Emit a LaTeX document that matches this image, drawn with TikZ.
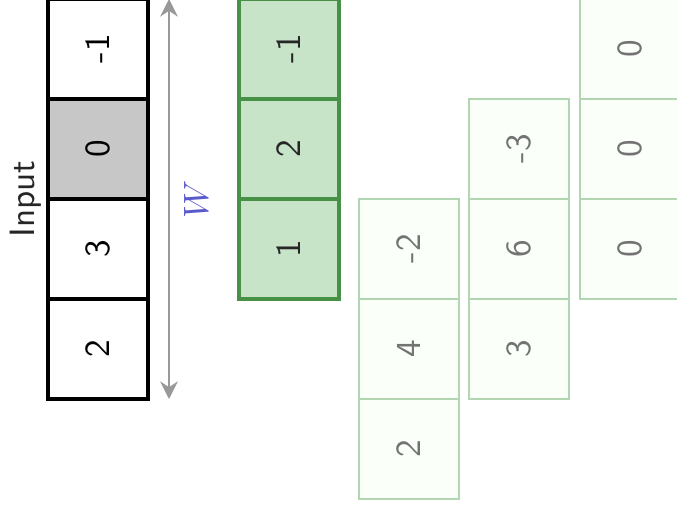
\documentclass[tikz,border=0pt]{standalone}
\usetikzlibrary{arrows.meta}

\begin{document}
\begin{tikzpicture}[x=0.01cm,y=-0.01cm,line width=0.8pt,>={Stealth[length=5pt,width=5pt]},
  cell/.style={draw,minimum size=1cm,inner sep=0pt,outer sep=0pt,rotate=90,font=\sffamily},
  incell/.style={cell,line width=0.9pt},
  outcell/.style={cell,draw={rgb,255:red,70;green,145;blue,70},fill={rgb,255:red,200;green,228;blue,200},line width=0.9pt,text=black!85},
  ghost/.style={cell,draw=green!45!black!30,fill=green!2,line width=0.4pt,text=black!55}]
\useasboundingbox (0,0) rectangle (677,515);
\clip (0,0) rectangle (677,515);
% input column
\node[incell] (in1) at (98,49) {-1};
\node[incell,fill=black!22] (in2) at (98,149) {0};
\node[incell] (in3) at (98,249) {3};
\node[incell] (in4) at (98,349) {2};
\node[rotate=90,font=\sffamily,text=black!85] (inlab) at (26,199) {Input};
% width arrow
\coordinate (wtop) at (169,-1);
\coordinate (wbot) at (169,399);
\draw[<->,gray!80,line width=0.6pt] (wtop) -- node[anchor=north,rotate=90,text={rgb,255:red,90;green,90;blue,205},inner sep=4pt] (wlab) {$W$} (wbot);
% kernel
\node[outcell] (k1) at (289,49) {-1};
\node[outcell] (k2) at (289,149) {2};
\node[outcell] (k3) at (289,249) {1};
% partial products
\node[ghost] (p1) at (409,249) {-2};
\node[ghost] (p2) at (409,349) {4};
\node[ghost] (p3) at (409,449) {2};
\node[ghost] (q1) at (519,149) {-3};
\node[ghost] (q2) at (519,249) {6};
\node[ghost] (q3) at (519,349) {3};
\node[ghost] (r1) at (630,49) {0};
\node[ghost] (r2) at (630,149) {0};
\node[ghost] (r3) at (630,249) {0};
\end{tikzpicture}
\end{document}
